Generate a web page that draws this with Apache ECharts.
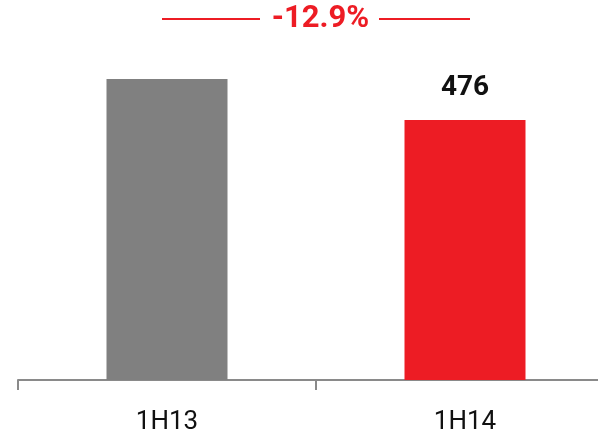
<!DOCTYPE html>
<html>
<head>
<meta charset="utf-8">
<script src="https://cdn.jsdelivr.net/npm/echarts@6/dist/echarts.min.js"></script>
<style>
  html, body { margin: 0; padding: 0; background: #fff; }
  #chart { width: 598px; height: 433px; }
</style>
</head>
<body>
<div id="chart"></div>
<script>
// Half-year totals
const categories = ['1H13', '1H14'];
const values = [551, 476];
const barColors = ['#808080', '#ED1C24'];
const showValue = [false, true];
const changeLabel = '-12.9%';

const chart = echarts.init(document.getElementById('chart'), null, { renderer: 'canvas' });

const axisY = 380;
const yMax = 600;
const pxPerUnit = 260 / 476;
const gridHeight = yMax * pxPerUnit;

chart.setOption({
  animation: false,
  backgroundColor: '#ffffff',
  grid: {
    left: 18,
    width: 596,
    top: axisY - gridHeight,
    height: gridHeight,
    containLabel: false,
    outerBoundsMode: 'none'
  },
  xAxis: {
    type: 'category',
    data: categories,
    axisLine: { show: true, lineStyle: { color: '#8a8a8a', width: 2 } },
    axisTick: { show: true, length: 10, lineStyle: { color: '#8a8a8a', width: 2 } },
    axisLabel: {
      margin: 29,
      color: '#111111',
      fontFamily: 'Roboto',
      fontSize: 26
    }
  },
  yAxis: {
    type: 'value',
    min: 0,
    max: yMax,
    show: false,
    splitLine: { show: false }
  },
  series: [{
    type: 'bar',
    barWidth: 121,
    data: values.map((v, i) => ({
      value: v,
      itemStyle: { color: barColors[i] },
      label: {
        show: showValue[i],
        position: 'top',
        distance: 18,
        color: '#111111',
        fontFamily: 'Roboto',
        fontWeight: 'bold',
        fontSize: 28
      }
    }))
  }],
  graphic: [
    {
      type: 'line',
      shape: { x1: 162, y1: 19, x2: 260, y2: 19 },
      style: { stroke: '#ED1C24', lineWidth: 2 }
    },
    {
      type: 'line',
      shape: { x1: 379, y1: 19, x2: 470, y2: 19 },
      style: { stroke: '#ED1C24', lineWidth: 2 }
    },
    {
      type: 'text',
      x: 320.5,
      y: 19,
      style: {
        text: changeLabel,
        fill: '#ED1C24',
        font: 'bold 31px Roboto',
        align: 'center',
        verticalAlign: 'middle'
      }
    }
  ]
});
</script>
</body>
</html>
